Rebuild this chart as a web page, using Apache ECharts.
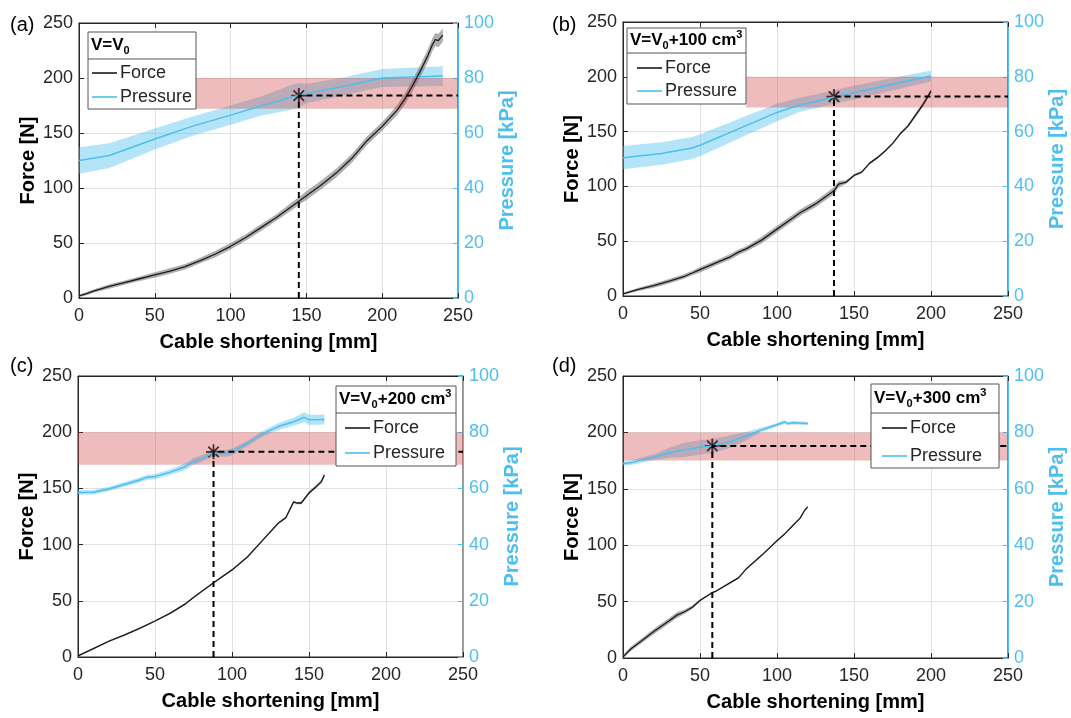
<!DOCTYPE html>
<html><head><meta charset="utf-8">
<script src="https://cdn.jsdelivr.net/npm/echarts@6/dist/echarts.min.js"></script>
<style>html,body{margin:0;padding:0;background:#fff}#c{width:1071px;height:718px}</style>
</head><body><div id="c"></div>
<script>
// ---------- data ----------
const seriesNames = ['Force', 'Pressure'];
const panelLabels = ['(a)', '(b)', '(c)', '(d)'];
const legendTitles = ['V=V{s|0}', 'V=V{s|0}+100 cm{p|3}', 'V=V{s|0}+200 cm{p|3}', 'V=V{s|0}+300 cm{p|3}'];
const xAxisName = 'Cable shortening [mm]';
const leftAxisName = 'Force [N]';
const rightAxisName = 'Pressure [kPa]';

// (a) V = V0
const aForceX = [0,5,10,20,30,40,50,60,70,80,90,100,110,120,130,140,145,150,160,170,180,190,200,210,215,220,225,230,233,235,237,240];
const aForceY = [2,4,6.5,10.5,14,17.5,21,24.5,28.5,34,40,47,55,64,73,83,88,93,103,114,127,143,156,171,181,193,206,220,230,235,234,239];
const aForceE = [1,1.5,1.5,2,2,2,2.5,2.5,2.5,2.5,3,3,3,3,3,3.5,3.5,4,4,4,4,4,4,4.5,5,5,5.5,6,6,6,6,6];
const aPressX = [0,20,50,75,100,120,140,145,150,175,200,240];
const aPressY = [50,51.8,57.8,62.5,66.5,69.8,73,73.7,74.3,77,80,80.7];
const aPressE = [4.8,4.5,3.8,3.5,3.5,3.5,4.5,4.5,3.5,3.3,3.3,3.6];
const aStar = [145, 184];
const aRedBand = [77, 172, 250, 200];

// (b) V = V0 + 100 cm3
const bForceX = [0,10,20,30,40,45,50,60,70,75,80,90,100,110,115,120,125,130,137,140,145,150,155,160,165,170,175,180,185,190,195,200];
const bForceY = [2,6,9.5,13.5,18,21,24,30,36,40,43,51,61,71,76,80,84,89,96,102,104,110,113,121,126,132,139,148,155,165,175,187];
const bForceE = [1,1.5,2,2,2,2,2.5,2.5,2.5,2.5,2.5,3,3,3,3,3,3,3,3.5,3,1.5,1,1,1,1,1,1,1,1.5,2,2,2];
const bPressX = [0,25,45,50,75,100,115,125,137,150,175,200];
const bPressY = [50.5,52,54,55,61,67,69.8,71,72.6,74.2,77.3,80.3];
const bPressE = [4.2,4.1,4,4,3.6,3.2,2.6,2.5,2.5,2.5,2.3,2];
const bStar = [137, 182];
const bRedBand = [80, 172, 250, 200];

// (c) V = V0 + 200 cm3
const cForceX = [0,10,20,30,40,50,60,70,75,80,88,100,110,120,130,135,140,142,145,150,155,158,160];
const cForceY = [1,7.5,14,19.5,25.5,32,39,47.5,53,58,66,77.5,89,104,119,124,138,137,137,146,152,156,162];
const cForceE = [0.8,0.8,0.8,0.8,0.8,0.8,0.8,0.8,0.8,0.8,0.8,0.8,0.8,0.8,0.8,0.8,1,1,1.2,1.5,1.5,1.8,1.8];
const cPressX = [0,10,20,30,40,45,50,60,70,75,80,88,95,100,110,120,130,140,147,150,160];
const cPressY = [58.5,58.6,59.8,61.4,63,64,64.2,65.8,67.8,69.6,70.5,72.6,72.4,73,76,79.5,82,83.7,85.3,84.4,84.5];
const cPressE = [0.8,0.8,0.8,0.8,0.9,0.9,0.9,1,1.2,1.2,1.2,1.2,1.2,1.2,1,1,1.2,1.4,1.8,1.8,1.8];
const cStar = [88, 182.5];
const cRedBand = [0, 171, 250, 200];

// (d) V = V0 + 300 cm3
const dForceX = [0,5,10,20,30,35,40,45,50,58,60,70,75,80,90,100,105,110,115,118,120];
const dForceY = [1,8,13,23.5,33,38,41,45,51,58,59,67,71,79,91,104,110,117,124,131,134];
const dForceE = [1.5,2,2,2.5,2.5,2.5,2,1.5,1,0.8,0.8,0.8,0.8,0.8,0.8,0.8,0.8,0.8,0.8,0.8,0.8];
const dPressX = [0,5,10,20,30,40,50,58,70,80,90,100,105,107,110,120];
const dPressY = [69,69.2,69.9,71.2,72.8,73.8,74.7,75.2,76.8,78.7,80.9,82.7,83.7,83.1,83.4,83.2];
const dPressE = [0.8,0.8,0.9,1,1.8,2.5,2.5,2.5,2.2,1.5,0.8,0.6,0.6,0.6,0.6,0.6];
const dStar = [58, 188];
const dRedBand = [0, 175, 250, 200];

// axis ranges
const xRange = [0, 250, 50];
const forceRange = [0, 250, 50];
const pressRange = [0, 100, 20];

// ---------- layout / styles ----------
const FONT = 'Liberation Sans';
const DARK = '#262626';
const BLUE = '#4DBEEE';
const grids = [
  {left: 79, top: 23, width: 379, height: 275},
  {left: 623, top: 22, width: 385, height: 274},
  {left: 78, top: 376, width: 385, height: 281},
  {left: 623, top: 376, width: 385, height: 282}
];
const legendBoxes = [
  {x: 88, y: 32, w: 108, h: 77, div: 27, lx: 92, ly: 63, gap: 4},
  {x: 627, y: 28, w: 119, h: 76, div: 25, lx: 637, ly: 58, gap: 3},
  {x: 336, y: 386, w: 120, h: 80, div: 27, lx: 345, ly: 418, gap: 5},
  {x: 871, y: 384, w: 128, h: 84, div: 29, lx: 882, ly: 418, gap: 8}
];
const labelPos = [[10, 25], [552, 25], [10, 366], [552, 366]];

const panels = [
  {fx: aForceX, fy: aForceY, fe: aForceE, px: aPressX, py: aPressY, pe: aPressE, star: aStar, band: aRedBand},
  {fx: bForceX, fy: bForceY, fe: bForceE, px: bPressX, py: bPressY, pe: bPressE, star: bStar, band: bRedBand},
  {fx: cForceX, fy: cForceY, fe: cForceE, px: cPressX, py: cPressY, pe: cPressE, star: cStar, band: cRedBand},
  {fx: dForceX, fy: dForceY, fe: dForceE, px: dPressX, py: dPressY, pe: dPressE, star: dStar, band: dRedBand}
];

const STAR_PATH = 'path://M44 0L56 0L56 100L44 100Z M0 44L100 44L100 56L0 56Z M19.2 10.8L89.2 80.8L80.8 89.2L10.8 19.2Z M80.8 10.8L89.2 19.2L19.2 89.2L10.8 80.8Z';

function bandSeries(xs, ys, es, xi, yi, color) {
  return {
    type: 'custom', xAxisIndex: xi, yAxisIndex: yi, silent: true, clip: true,
    encode: {x: 0, y: 1},
    data: xs.map((x, k) => [x, ys[k]]),
    renderItem: (params, api) => {
      if (params.dataIndex !== 0) return null;
      const pts = [];
      for (let k = 0; k < xs.length; k++) pts.push(api.coord([xs[k], ys[k] + es[k]]));
      for (let k = xs.length - 1; k >= 0; k--) pts.push(api.coord([xs[k], ys[k] - es[k]]));
      return {type: 'polygon', shape: {points: pts}, style: {fill: color}};
    }
  };
}

const option = {
  animation: false,
  backgroundColor: '#fff',
  textStyle: {fontFamily: FONT},
  grid: grids.map(g => Object.assign({containLabel: false, show: true, borderColor: DARK, borderWidth: 1}, g)),
  xAxis: [], yAxis: [], series: [], legend: [], graphic: []
};

panels.forEach((p, i) => {
  option.xAxis.push({
    type: 'value', gridIndex: i, min: xRange[0], max: xRange[1], interval: xRange[2],
    name: xAxisName, nameLocation: 'middle', nameGap: 34,
    nameTextStyle: {fontFamily: FONT, fontSize: 20, fontWeight: 'bold', color: '#000'},
    axisLine: {onZero: false, lineStyle: {color: DARK, width: 1}},
    axisTick: {inside: true, length: 5, lineStyle: {color: DARK}},
    axisLabel: {fontFamily: FONT, fontSize: 18, color: DARK, margin: 9},
    splitLine: {show: true, lineStyle: {color: '#e2e2e2', width: 1}}
  });
  option.xAxis.push({
    type: 'value', gridIndex: i, position: 'top', min: xRange[0], max: xRange[1], interval: xRange[2],
    axisLine: {onZero: false, lineStyle: {color: DARK, width: 1}},
    axisTick: {inside: true, length: 5, lineStyle: {color: DARK}},
    axisLabel: {show: false}, splitLine: {show: false}
  });
  option.yAxis.push({
    type: 'value', gridIndex: i, position: 'left', min: forceRange[0], max: forceRange[1], interval: forceRange[2],
    name: leftAxisName, nameLocation: 'middle', nameGap: 41, nameRotate: 90,
    nameTextStyle: {fontFamily: FONT, fontSize: 20, fontWeight: 'bold', color: '#000'},
    axisLine: {show: true, onZero: false, lineStyle: {color: DARK, width: 1}},
    axisTick: {show: true, inside: true, length: 5, lineStyle: {color: DARK}},
    axisLabel: {fontFamily: FONT, fontSize: 18, color: DARK, margin: 6},
    splitLine: {show: true, lineStyle: {color: '#e2e2e2', width: 1}}
  });
  option.yAxis.push({
    type: 'value', gridIndex: i, position: 'right', min: pressRange[0], max: pressRange[1], interval: pressRange[2],
    name: rightAxisName, nameLocation: 'middle', nameGap: 34, nameRotate: 90,
    nameTextStyle: {fontFamily: FONT, fontSize: 20, fontWeight: 'bold', color: BLUE},
    axisLine: {show: true, onZero: false, lineStyle: {color: BLUE, width: 1}},
    axisTick: {show: true, inside: true, length: 5, lineStyle: {color: BLUE}},
    axisLabel: {fontFamily: FONT, fontSize: 18, color: BLUE, margin: 6},
    splitLine: {show: false}
  });
  const xi = 2 * i, yl = 2 * i, yr = 2 * i + 1;
  // uncertainty bands
  option.series.push(bandSeries(p.px, p.py, p.pe, xi, yr, 'rgba(77,190,238,0.42)'));
  option.series.push(bandSeries(p.fx, p.fy, p.fe, xi, yl, 'rgba(110,110,110,0.55)'));
  // mean lines
  option.series.push({
    type: 'line', name: seriesNames[1], xAxisIndex: xi, yAxisIndex: yr, showSymbol: false, symbol: 'none',
    data: p.px.map((x, k) => [x, p.py[k]]), lineStyle: {color: BLUE, width: 1.5}, itemStyle: {color: BLUE}
  });
  option.series.push({
    type: 'line', name: seriesNames[0], xAxisIndex: xi, yAxisIndex: yl, showSymbol: false, symbol: 'none',
    data: p.fx.map((x, k) => [x, p.fy[k]]), lineStyle: {color: '#1a1a1a', width: 1.3}, itemStyle: {color: '#1a1a1a'}
  });
  // red target band
  option.series.push({
    type: 'custom', xAxisIndex: xi, yAxisIndex: yl, silent: true, clip: true,
    encode: {x: [0, 2], y: [1, 3]},
    data: [p.band],
    renderItem: (params, api) => {
      const a = api.coord([api.value(0), api.value(3)]);
      const b = api.coord([api.value(2), api.value(1)]);
      return {type: 'rect', shape: {x: a[0], y: a[1], width: b[0] - a[0], height: b[1] - a[1]},
        style: {fill: 'rgba(205,60,60,0.34)'}};
    }
  });
  // dashed guide lines
  option.series.push({
    type: 'line', xAxisIndex: xi, yAxisIndex: yl, showSymbol: false, symbol: 'none', silent: true,
    data: [[p.star[0], forceRange[0]], [p.star[0], p.star[1]], [xRange[1], p.star[1]]],
    lineStyle: {color: '#000', width: 2, type: [6, 4]}
  });
  // star marker
  option.series.push({
    type: 'scatter', xAxisIndex: xi, yAxisIndex: yl, silent: true,
    data: [p.star], symbol: STAR_PATH, symbolSize: 15, itemStyle: {color: '#2a0606'}
  });

  // legend box (drawn on an upper layer so it hides what lies behind it)
  const L = legendBoxes[i];
  option.graphic.push(
    {type: 'rect', zlevel: 1, z: 50, shape: {x: L.x, y: L.y, width: L.w, height: L.h}, style: {fill: '#fff', stroke: '#555', lineWidth: 1}},
    {type: 'line', zlevel: 1, z: 51, shape: {x1: L.x, y1: L.y + L.div, x2: L.x + L.w, y2: L.y + L.div}, style: {stroke: '#555', lineWidth: 1}},
    {type: 'text', zlevel: 1, z: 52, x: L.x + 3, y: L.y + L.div / 2, style: {
      text: legendTitles[i], fontFamily: FONT, fontSize: 17, fontWeight: 'bold', fill: '#000',
      verticalAlign: 'middle', lineHeight: 22,
      rich: {
        s: {fontFamily: FONT, fontSize: 11, fontWeight: 'bold', fill: '#000', verticalAlign: 'bottom', lineHeight: 11},
        p: {fontFamily: FONT, fontSize: 11, fontWeight: 'bold', fill: '#000', verticalAlign: 'top', lineHeight: 11}
      }}}
  );
  option.legend.push({
    zlevel: 1, z: 60, left: L.lx, top: L.ly, orient: 'vertical', padding: 0, itemGap: L.gap,
    icon: 'rect', itemWidth: 25, itemHeight: 1.6, data: seriesNames, selectedMode: false,
    textStyle: {fontFamily: FONT, fontSize: 18, color: DARK, lineHeight: 20, padding: [0, 0, 0, -2]}
  });
  option.graphic.push({
    type: 'text', x: labelPos[i][0], y: labelPos[i][1],
    style: {text: panelLabels[i], fontFamily: FONT, fontSize: 20, fill: '#000', verticalAlign: 'middle'}
  });
});

const chart = echarts.init(document.getElementById('c'), null, {renderer: 'canvas'});
chart.setOption(option);
</script>
</body></html>
